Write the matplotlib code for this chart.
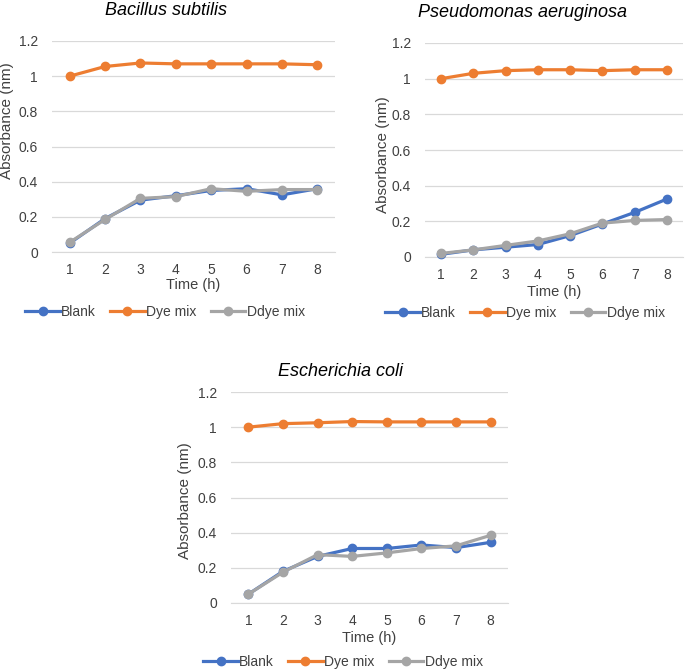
import matplotlib.pyplot as plt

plt.rcParams['font.family'] = ['Liberation Sans', 'DejaVu Sans']

time_h = [1, 2, 3, 4, 5, 6, 7, 8]
series_names = ['Blank', 'Dye mix', 'Ddye mix']
colors = ['#4472C4', '#ED7D31', '#A5A5A5']

bs_blank = [0.05, 0.19, 0.295, 0.32, 0.35, 0.36, 0.325, 0.36]
bs_dye = [1.0, 1.055, 1.075, 1.07, 1.07, 1.07, 1.07, 1.065]
bs_ddye = [0.055, 0.185, 0.305, 0.315, 0.36, 0.345, 0.355, 0.355]

pa_blank = [0.015, 0.04, 0.055, 0.07, 0.12, 0.185, 0.25, 0.325]
pa_dye = [1.0, 1.03, 1.045, 1.05, 1.05, 1.045, 1.05, 1.05]
pa_ddye = [0.02, 0.04, 0.065, 0.09, 0.13, 0.19, 0.205, 0.21]

ec_blank = [0.05, 0.18, 0.265, 0.31, 0.31, 0.33, 0.315, 0.345]
ec_dye = [1.0, 1.02, 1.025, 1.032, 1.03, 1.03, 1.03, 1.03]
ec_ddye = [0.05, 0.175, 0.275, 0.265, 0.285, 0.31, 0.325, 0.385]

yticks = [0, 0.2, 0.4, 0.6, 0.8, 1, 1.2]
ytick_labels = ['0', '0.2', '0.4', '0.6', '0.8', '1', '1.2']

W, H = 685, 670
fig = plt.figure(figsize=(W / 100, H / 100), dpi=100)

# layout in pixels: axes (left, top, right, bottom), title (cx, baseline),
# ylabel (right edge, center y), xlabel y, legend (cx, cy)
panels = [
    ('Bacillus subtilis', (bs_blank, bs_dye, bs_ddye),
     (52, 41, 335, 252), (166, 15), (14, 121), 285, (165, 312)),
    ('Pseudomonas aeruginosa', (pa_blank, pa_dye, pa_ddye),
     (425, 43, 683, 257), (522, 17), (390, 155), 292, (525, 313)),
    ('Escherichia coli', (ec_blank, ec_dye, ec_ddye),
     (231, 392, 508, 603), (341, 376), (192, 501), 638, (343, 662)),
]

for title, data, box, tpos, ypos, xly, lpos in panels:
    l, t, r, b = box
    ax = fig.add_axes([l / W, 1 - b / H, (r - l) / W, (b - t) / H])
    handles = []
    for vals, name, c in zip(data, series_names, colors):
        h, = ax.plot(time_h, vals, '-o', color=c, lw=2.3, ms=6, label=name,
                     clip_on=False, zorder=3)
        handles.append(h)
    ax.set_xlim(0.5, 8.5)
    ax.set_ylim(0, 1.2)
    ax.set_xticks(time_h)
    ax.set_yticks(yticks)
    ax.set_yticklabels(ytick_labels)
    ax.grid(axis='y', color='#D9D9D9', lw=0.9)
    ax.set_axisbelow(True)
    for s in ['top', 'right', 'left']:
        ax.spines[s].set_visible(False)
    ax.spines['bottom'].set_color('#D9D9D9')
    ax.tick_params(length=0, labelsize=10, colors='#404040', pad=8)
    ax.tick_params(axis='y', pad=10)
    fig.text(tpos[0] / W, 1 - tpos[1] / H, title, ha='center', va='baseline',
             fontsize=13, style='italic', color='black')
    fig.text(ypos[0] / W, 1 - ypos[1] / H, 'Absorbance (nm)', rotation=90,
             ha='right', va='center', fontsize=11, color='#404040')
    fig.text((l + r) / 2 / W, 1 - xly / H, 'Time (h)', ha='center',
             va='center', fontsize=10.5, color='#404040')
    fig.legend(handles=handles, loc='center',
               bbox_to_anchor=(lpos[0] / W, 1 - lpos[1] / H),
               ncol=3, frameon=False, fontsize=10, handlelength=2.5,
               handletextpad=0.1, columnspacing=1.0, labelcolor='#404040',
               borderaxespad=0, borderpad=0)

fig.savefig('out.png', dpi=100)
